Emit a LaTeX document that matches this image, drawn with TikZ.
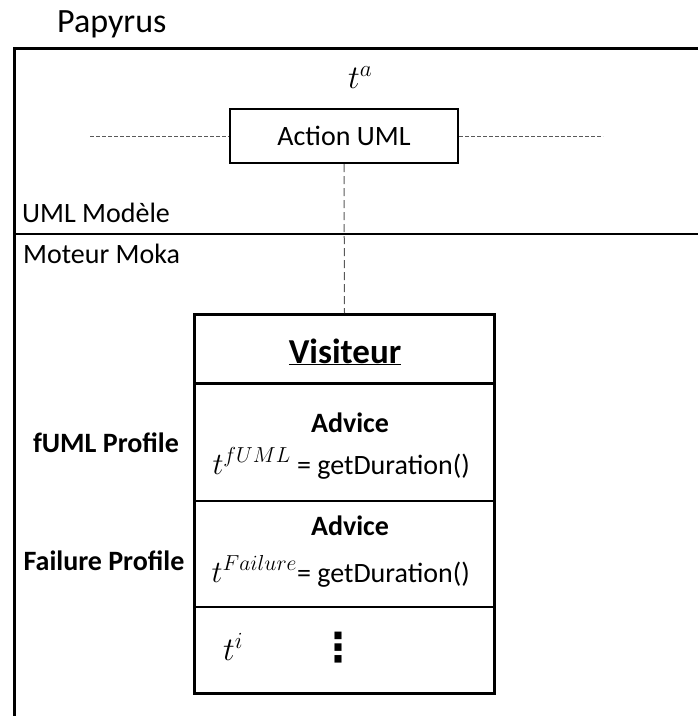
\RequirePackage{fix-cm}
\documentclass[tikz,border=0pt]{standalone}
\usepackage{fontspec}
\setmainfont{Carlito}
\newfontfamily\symbfont{DejaVu Sans}
\usetikzlibrary{positioning}

\begin{document}
\begin{tikzpicture}[x=1pt,y=-1pt,
   every node/.style={inner sep=0pt,font=\fontsize{28}{32}\selectfont},
   lbl/.style={anchor=base west},
   prof/.style={anchor=base,font=\fontsize{28}{32}\selectfont\bfseries},
   mth/.style={font=\fontsize{33}{36}\selectfont},
   hdash/.style={dash pattern=on 4pt off 2pt,black!65,line width=1pt},
   vdash/.style={dash pattern=on 8pt off 4pt,black!65,line width=1pt}]

\useasboundingbox (0,0) rectangle (698,716);

% cadre Papyrus
\node[lbl,font=\fontsize{34}{38}\selectfont] (papyrus) at (57,32) {Papyrus};
\draw[line width=3pt] (698,48) -- (14.5,48) -- (14.5,716);
\draw[line width=1.2pt] (14.5,234) -- (698,234);
\node[lbl] (modele) at (22,222) {UML Modèle};
\node[lbl] (moteur) at (23,263) {Moteur Moka};

% action
\node[draw,line width=2pt,minimum width=228pt,minimum height=54pt] (action) at (344,136) {Action UML};
\node[mth,lbl] (ta) at (348,88) {$t^{a}$};
\coordinate (gauche) at (90,136);
\coordinate (droite) at (603,136);
\draw[hdash] (gauche) -- (action.west);
\draw[hdash] (action.east) -- (droite);

% visiteur
\node[draw,line width=3pt,minimum width=300pt,minimum height=379pt,anchor=north west] (visiteur) at (193,313) {};
\draw[vdash] (action.south) -- (visiteur.north);
\draw[line width=3pt] (visiteur.west |- 0,383) -- (visiteur.east |- 0,383);
\draw[line width=2pt] (visiteur.west |- 0,501) -- (visiteur.east |- 0,501);
\draw[line width=2pt] (visiteur.west |- 0,607) -- (visiteur.east |- 0,607);
\node[anchor=base,font=\fontsize{35}{40}\selectfont\bfseries] (titre) at (345,363) {\underline{Visiteur}};

\node[prof] (advice1) at (350,432) {Advice};
\node[anchor=base east] (tfuml) at (470,474) {{\fontsize{31}{34}\selectfont$t^{fUML}$} = getDuration()};
\node[prof] (fuml) at (106,452) {fUML Profile};

\node[prof] (advice2) at (350,535) {Advice};
\node[anchor=base east] (tfailure) at (470,582) {{\fontsize{31}{34}\selectfont$t^{Failure}$}= getDuration()};
\node[prof] (failure) at (104,570) {Failure Profile};

\node[mth,lbl] (ti) at (223,660) {$t^{i}$};
\node[font=\fontsize{40}{44}\selectfont] (points) at (338,648) {\symbfont\bfseries ⋮};

\end{tikzpicture}
\end{document}
